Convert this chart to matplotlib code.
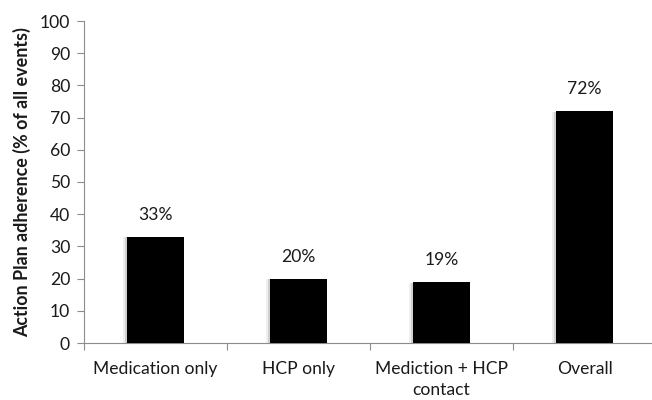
import matplotlib
matplotlib.use("Agg")
import matplotlib.pyplot as plt
from matplotlib import patheffects as pe

categories = ["Medication only", "HCP only", "Mediction + HCP\ncontact", "Overall"]
adherence = [33, 20, 19, 72]
value_labels = ["33%", "20%", "19%", "72%"]
y_ticks = list(range(0, 101, 10))

plt.rcParams["font.family"] = ["Lato", "DejaVu Sans"]

fig = plt.figure(figsize=(6.52, 4.0), dpi=100)
ax = fig.add_axes([84 / 652, 57 / 400, 572 / 652, 322 / 400])

axis_grey = "#8c8c8c"
text_col = "#1a1a1a"
fs = 12.6
x = list(range(len(categories)))
bars = ax.bar(x, adherence, width=0.4, color="black", zorder=3)
# soft shadow on the left edge of each bar
for b in bars:
    b.set_path_effects([
        pe.SimplePatchShadow(offset=(-3, -0.5), shadow_rgbFace="#999999", alpha=0.15),
        pe.SimplePatchShadow(offset=(-1.5, -0.5), shadow_rgbFace="#777777", alpha=0.25),
        pe.Normal(),
    ])

for xi, v, lab in zip(x, adherence, value_labels):
    ax.annotate(lab, (xi, v), xytext=(0, 10), textcoords="offset points",
                ha="center", va="bottom", fontsize=fs, color=text_col)

ax.set_xlim(-0.5, len(categories) - 0.5)
ax.set_ylim(0, 100)
ax.set_yticks(y_ticks)
ax.tick_params(axis="y", labelsize=fs, length=5, color=axis_grey, labelcolor=text_col, pad=5)

# category labels centred under the bars, tick marks between categories
ax.set_xticks([i - 0.5 for i in range(len(categories) + 1)])
ax.set_xticklabels([])
ax.tick_params(axis="x", length=5, color=axis_grey)
ax.set_xticks(x, minor=True)
ax.set_xticklabels(categories, minor=True, fontsize=fs, color=text_col, linespacing=1.35)
ax.tick_params(axis="x", which="minor", length=0, pad=13)

for s in ["top", "right"]:
    ax.spines[s].set_visible(False)
for s in ["left", "bottom"]:
    ax.spines[s].set_color(axis_grey)
    ax.spines[s].set_linewidth(0.8)

ax.set_ylabel("Action Plan adherence (% of all events)", fontsize=12.9,
              fontweight="bold", color=text_col, labelpad=6)

fig.savefig("out.png", dpi=100)
